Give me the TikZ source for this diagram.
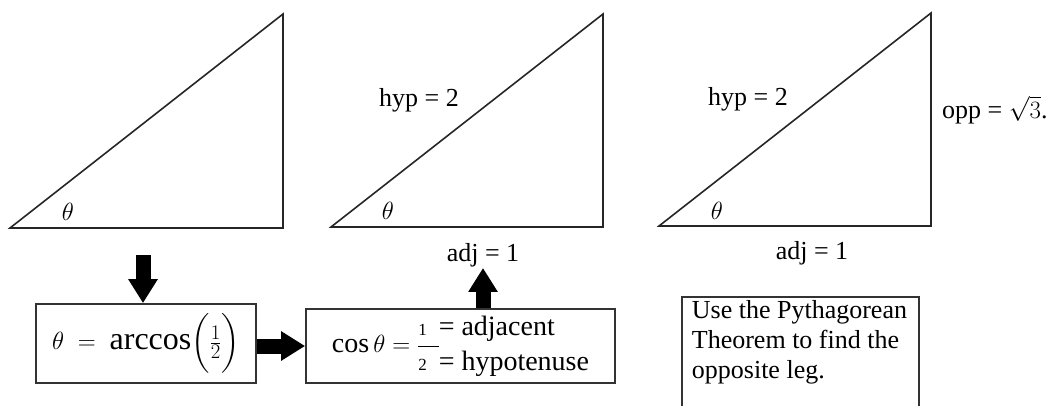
\documentclass[tikz,border=0pt]{standalone}
\usepackage{amsmath}
\usepackage{fontspec}
\setmainfont{Liberation Serif}
\usetikzlibrary{arrows.meta, positioning}

\begin{document}
\begin{tikzpicture}[x=1pt, y=-1pt]
  \tikzset{
    tri/.style={draw=black!85, line width=1.6pt, line join=miter},
    box/.style={rectangle, draw=black!80, line width=1.8pt, inner sep=0pt,
                align=center},
    lbl/.style={inner sep=1pt, font=\fontsize{26}{30}\selectfont},
    ang/.style={inner sep=0pt, font=\fontsize{25}{28}\selectfont},
    arr/.style={-{Triangle[length=24pt, width=28pt]}, line width=15pt}
  }
  \useasboundingbox (0,0) rectangle (1057,405);
  % Three right triangles
  \draw[tri] (10,228) -- (283,228) -- (283,14) -- cycle;
  \draw[tri] (331,227) -- (603,227) -- (603,14) -- cycle;
  \draw[tri] (659,226) -- (931,226) -- (931,13) -- cycle;
  % Angle and side labels
  \node[ang] (th1) at (68,212)  {$\theta$};
  \node[ang] (th2) at (388,211) {$\theta$};
  \node[ang] (th3) at (717,211) {$\theta$};
  \node[lbl] (hyp2) at (419,100) {hyp = 2};
  \node[lbl] (hyp3) at (748,99)  {hyp = 2};
  \node[lbl] (adj2) at (483,255) {adj = 1};
  \node[lbl] (adj3) at (812,253) {adj = 1};
  \node[lbl, anchor=west] (opp) at (941,110) {opp = $\sqrt{3}$.};
  % Boxes
  \node[box, minimum width=220pt, minimum height=79pt,
        font=\fontsize{32}{36}\selectfont] (acbox) at (146,343.5)
        {$\theta\;=\;\arccos\biggl(\tfrac{1}{2}\biggr)$};
  \node[box, minimum width=309pt, minimum height=74pt,
        font=\fontsize{28}{32}\selectfont] (cosbox) at (460.5,346)
        {$\cos\theta =$\hspace{8pt}\setlength\arrayrulewidth{1pt}%
         \def\arraystretch{1.08}%
         \begin{tabular}[c]{@{}c@{\hspace{12pt}}l@{}}
           {\fontsize{17}{20}\selectfont 1} & = adjacent\\ \cline{1-1}
           {\fontsize{17}{20}\selectfont 2} & = hypotenuse
         \end{tabular}};
  \node[box, anchor=north west, inner xsep=10pt, inner ysep=4pt,
        font=\fontsize{26}{30}\selectfont, align=left] (pybox) at (681,296)
        {\parbox[t][120pt][t]{217pt}{Use the Pythagorean\\
         Theorem to find the\\opposite leg.}};
  % Arrows
  \coordinate (dtop) at (143,255);
  \draw[arr] (dtop) -- (dtop |- acbox.north);
  \draw[arr] (acbox.east |- cosbox) -- (cosbox.west);
  \draw[arr] (cosbox.north -| adj2) -- (adj2.south);
\end{tikzpicture}
\end{document}
